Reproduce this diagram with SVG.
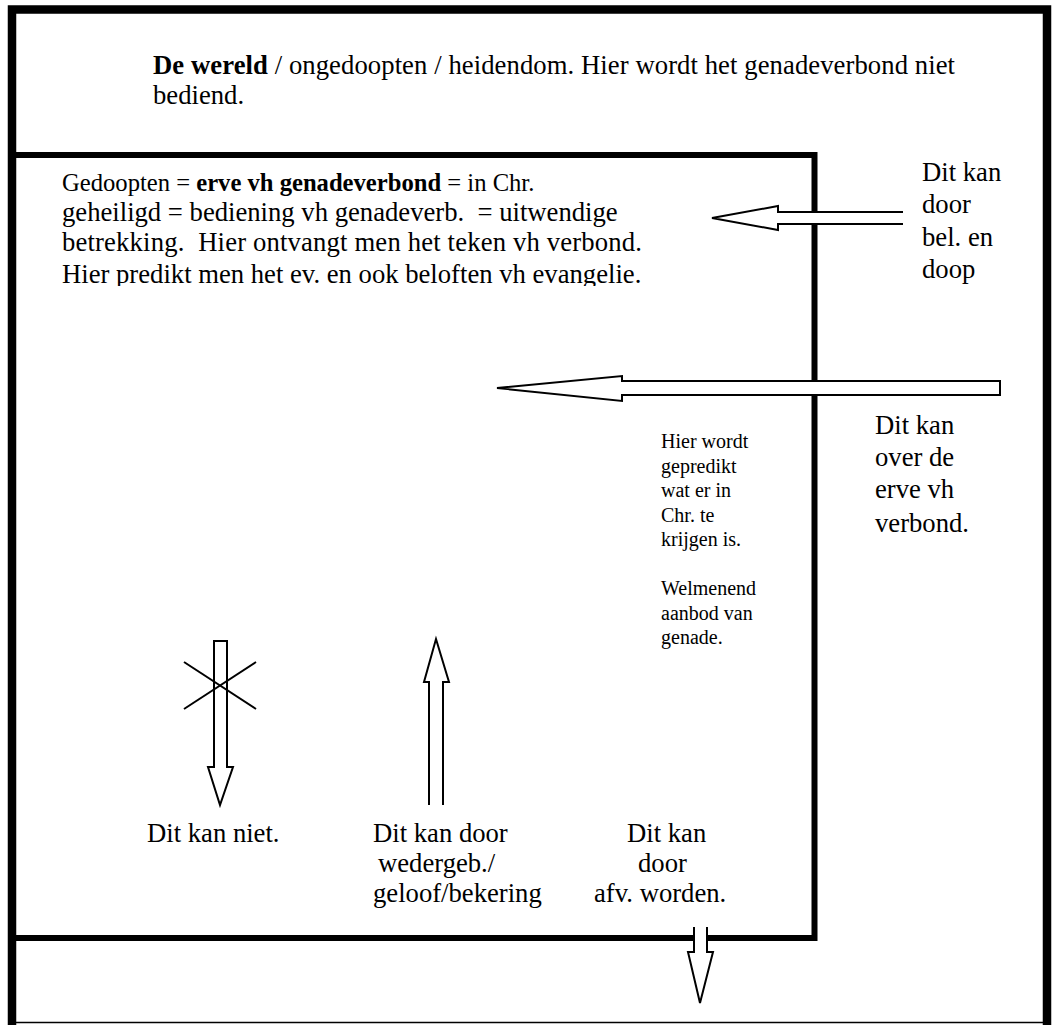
<svg xmlns="http://www.w3.org/2000/svg" width="1057" height="1025" viewBox="0 0 1057 1025">
<style>
  .t { font-size: 26.67px; fill: #000; }
  .t1 { font-size: 24.64px; fill: #000; }
  .s { font-size: 20px; fill: #000; }
  .b { font-weight: bold; }
  .border { fill: none; stroke: #000; stroke-linejoin: miter; }
  .arrowfill { fill: #fff; stroke: none; }
  .arrowline { fill: none; stroke: #000; stroke-width: 2; stroke-linejoin: miter; }
  .arrowclosed { fill: #fff; stroke: #000; stroke-width: 2; stroke-linejoin: miter; }
</style>
<defs>
  <clipPath id="clipGedoopten"><rect x="40" y="160" width="640" height="126"/></clipPath>
</defs>
<rect x="0" y="0" width="1057" height="1025" fill="#fff"/>

<g font-family="Liberation Serif, serif">
<g id="wereld">
  <path class="border" d="M12,1030 V9.5 H1047 V1030" stroke-width="8.5"/>
  <line x1="8" y1="1022.5" x2="1051" y2="1022.5" stroke="#000" stroke-width="1.5"/>
  <text class="t" x="153" y="74" textLength="802" lengthAdjust="spacing"><tspan class="b">De wereld</tspan> / ongedoopten / heidendom. Hier wordt het genadeverbond niet</text>
  <text class="t" x="153" y="104">bediend.</text>
</g>

<g id="erve">
  <path class="border" d="M12,155 H814.5 V938 H12" stroke-width="6"/>
  <g clip-path="url(#clipGedoopten)">
    <text class="t1" x="62" y="191">Gedoopten = <tspan class="b">erve vh genadeverbond</tspan> = in Chr.</text>
    <text class="t" x="62" y="221" xml:space="preserve">geheiligd = bediening vh genadeverb.  = uitwendige</text>
    <text class="t" x="62" y="251" xml:space="preserve" textLength="580" lengthAdjust="spacing">betrekking.  Hier ontvangt men het teken vh verbond.</text>
    <text class="t" x="62" y="283">Hier predikt men het ev. en ook beloften vh evangelie.</text>
  </g>
</g>

<g id="prediking">
  <text class="s" x="661" y="448">Hier wordt</text>
  <text class="s" x="661" y="472.5">gepredikt</text>
  <text class="s" x="661" y="497">wat er in</text>
  <text class="s" x="661" y="521.5">Chr. te</text>
  <text class="s" x="661" y="546">krijgen is.</text>
  <text class="s" x="661" y="595">Welmenend</text>
  <text class="s" x="661" y="619.5">aanbod van</text>
  <text class="s" x="661" y="644">genade.</text>
</g>

<g id="connectors">
  <g id="arrow-doop">
    <polygon class="arrowfill" points="903,212 778,212 778,206 712,218 778,230 778,224 903,224"/>
    <polyline class="arrowline" points="903,212 778,212 778,206 712,218 778,230 778,224 903,224"/>
  </g>
  <g id="arrow-over">
    <polygon class="arrowclosed" points="1000,381 622,381 622,376 497,388 622,401 622,395 1000,395"/>
  </g>
  <g id="arrow-niet">
    <polygon class="arrowclosed" points="214,641 227,641 227,767 233,767 220,805 208,767 214,767"/>
    <line x1="184" y1="662" x2="256" y2="709" stroke="#000" stroke-width="2"/>
    <line x1="184" y1="709" x2="256" y2="662" stroke="#000" stroke-width="2"/>
  </g>
  <g id="arrow-wedergeb">
    <polygon class="arrowfill" points="429,805 429,682 424,682 436,639 449,682 443,682 443,805"/>
    <polyline class="arrowline" points="429,805 429,682 424,682 436,639 449,682 443,682 443,805"/>
  </g>
  <g id="arrow-afval">
    <polygon class="arrowfill" points="694,927 694,952 688,952 700,1003 713,952 707,952 707,927"/>
    <polyline class="arrowline" points="694,927 694,952 688,952 700,1003 713,952 707,952 707,927"/>
  </g>
</g>

<g id="label-doop">
  <text class="t" x="922" y="181">Dit kan</text>
  <text class="t" x="922" y="213">door</text>
  <text class="t" x="922" y="246">bel. en</text>
  <text class="t" x="922" y="278">doop</text>
</g>
<g id="label-over">
  <text class="t" x="875" y="434">Dit kan</text>
  <text class="t" x="875" y="466">over de</text>
  <text class="t" x="875" y="498">erve vh</text>
  <text class="t" x="875" y="532">verbond.</text>
</g>
<g id="label-niet">
  <text class="t" x="147" y="842">Dit kan niet.</text>
</g>
<g id="label-wedergeb">
  <text class="t" x="373" y="842">Dit kan door</text>
  <text class="t" x="378" y="872">wedergeb./</text>
  <text class="t" x="373" y="902">geloof/bekering</text>
</g>
<g id="label-afval">
  <text class="t" x="627" y="842">Dit kan</text>
  <text class="t" x="638" y="872">door</text>
  <text class="t" x="594" y="902">afv. worden.</text>
</g>
</g>
</svg>
